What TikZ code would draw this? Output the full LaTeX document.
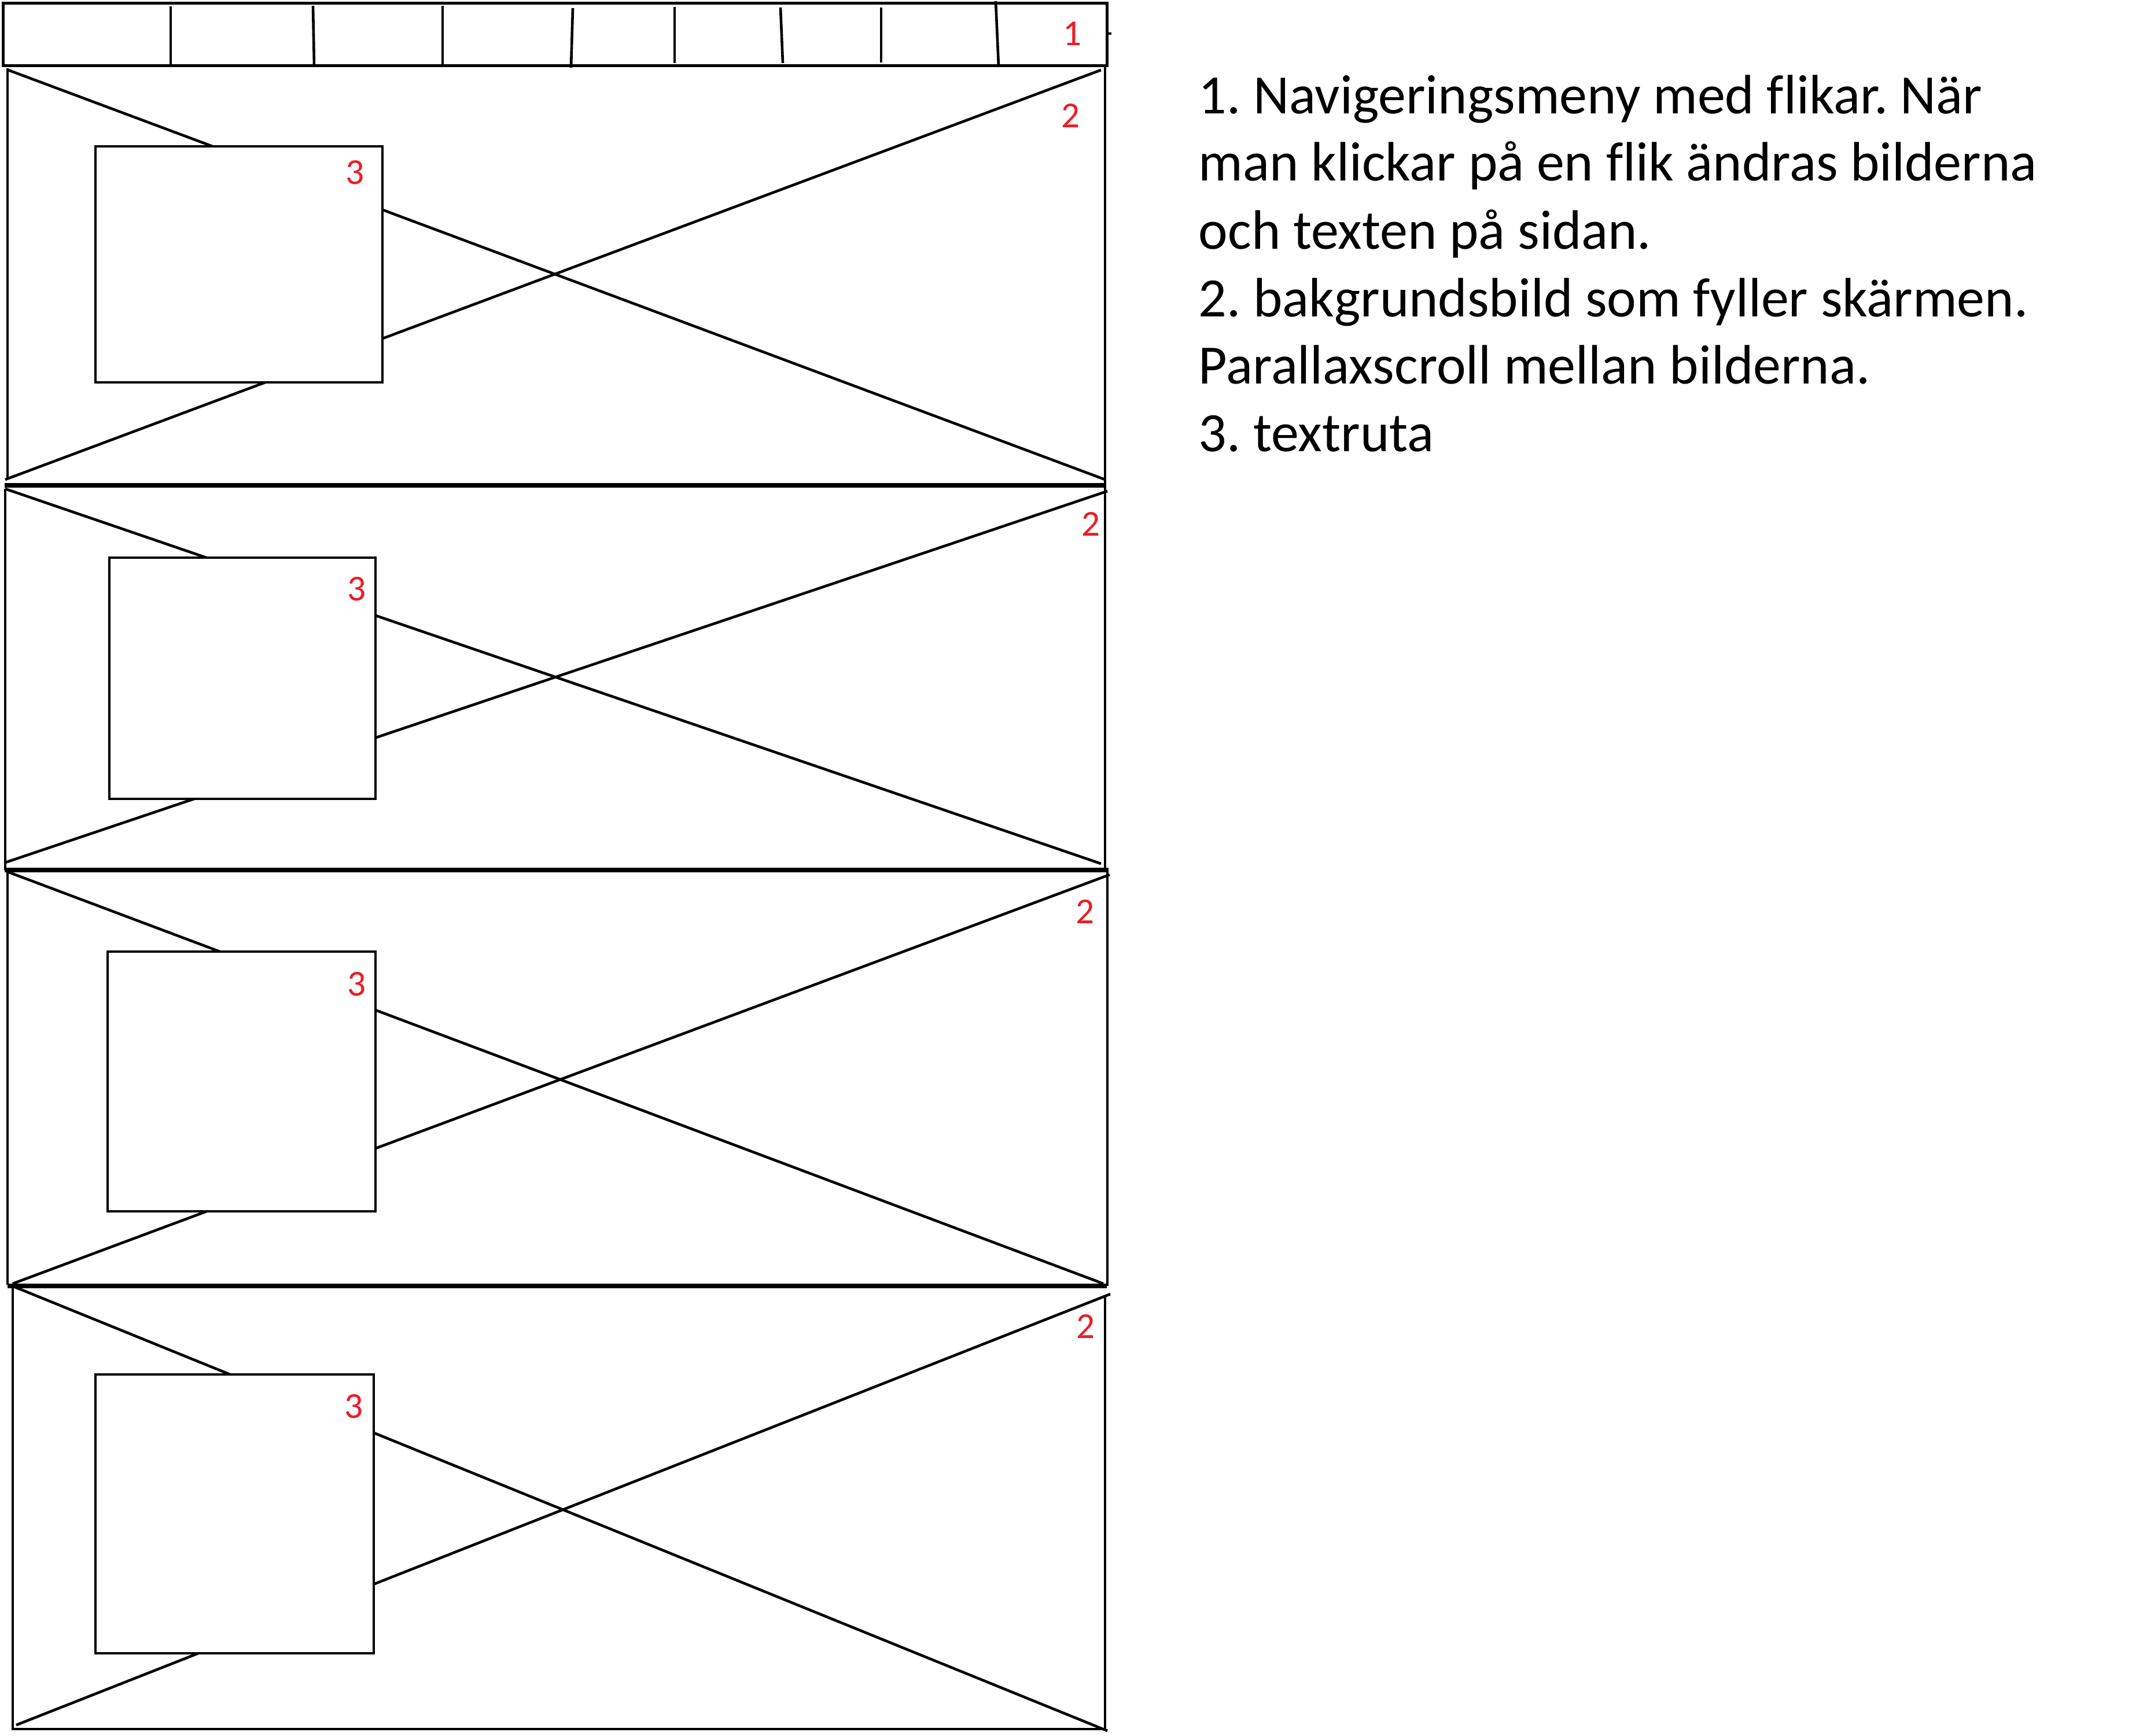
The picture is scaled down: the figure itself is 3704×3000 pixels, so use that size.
\documentclass[tikz,border=0pt]{standalone}
\usepackage{fontspec}
\newfontfamily\calibri[Ligatures=CommonOff]{Carlito}
\usetikzlibrary{fit}
\definecolor{paintred}{RGB}{237,28,36}
\frenchspacing
\tikzset{
  pl/.style={line width=1.15pt, black},
  sl/.style={line width=2.1pt, black},
  barbox/.style={draw, line width=1.25pt, inner sep=0pt},
  tb/.style={draw, fill=white, line width=1.2pt, inner sep=0pt},
  rl/.style={text=paintred, inner sep=0pt, anchor=center, font=\calibri\fontsize{15.8pt}{18pt}\selectfont},
  desc/.style={anchor=base west, inner sep=0pt, font=\calibri\fontsize{24pt}{28pt}\selectfont},
}
\begin{document}
\begin{tikzpicture}[x=0.25pt,y=-0.25pt]
\useasboundingbox (0,0) rectangle (3704,3000);
\fill[white] (0,0) rectangle (3704,3000);

% navigation bar
\node[barbox, fit={(5,5) (1913,113)}] (bar) {};
\draw[pl] (295,11) -- (295,112);
\draw[pl] (541,10) -- (543,113);
\draw[pl] (765,10) -- (765,112);
\draw[pl] (990,14) -- (987,117);
\draw[pl] (1166,12) -- (1166,109);
\draw[pl] (1349,13) -- (1353,109);
\draw[pl] (1523,13) -- (1523,108);
\draw[pl] (1721,2) -- (1726,115);
\draw[pl] (1913,58) -- (1921,58);

% panel 1
\draw[pl] (13,118) -- (13,829);
\draw[pl] (1910,113) -- (1910,839);
\draw[pl] (14,121) -- (1910,829);
\draw[pl] (9,829) -- (1903,121);
\draw[sl] (8,839) -- (1910,839);

% panel 2
\draw[pl] (9,845) -- (9,1504);
\draw[pl] (1910,839) -- (1910,1504);
\draw[pl] (9,845) -- (1903,1493);
\draw[pl] (9,1491) -- (1914,849);
\draw[sl] (8,1504) -- (1916,1504);

% panel 3
\draw[pl] (13,1507) -- (13,2221);
\draw[pl] (1914,1504) -- (1914,2223);
\draw[pl] (13,1507) -- (1907,2219);
\draw[pl] (22,2219) -- (1918,1512);
\draw[sl] (13,2223) -- (1913,2223);

% panel 4
\draw[pl] (22,2223) -- (22,2989) -- (1910,2989) -- (1910,2239);
\draw[pl] (26,2225) -- (1914,2992);
\draw[pl] (28,2982) -- (1919,2237);

% text boxes
\node[tb, fit={(165,253) (661,661)}] (b1) {};
\node[tb, fit={(189,964) (649,1381)}] (b2) {};
\node[tb, fit={(186,1645) (649,2094)}] (b3) {};
\node[tb, fit={(165,2376) (646,2858)}] (b4) {};

% red labels
\node[rl] (n1) at (1853,58) {1};
\node[rl] (n2a) at (1850,200) {2};
\node[rl] (n2b) at (1885,906) {2};
\node[rl] (n2c) at (1875,1576) {2};
\node[rl] (n2d) at (1876,2293) {2};
\node[rl] (n3a) at (614,298) {3};
\node[rl] (n3b) at (617,1018) {3};
\node[rl] (n3c) at (617,1701) {3};
\node[rl] (n3d) at (612,2431) {3};

% description
\node[desc] (t1) at (2071,196) {1. Navigeringsmeny med flikar. När};
\node[desc] (t2) at (2071,312) {man klickar på en flik ändras bilderna};
\node[desc] (t3) at (2071,430) {och texten på sidan.};
\node[desc] (t4) at (2071,547) {2. bakgrundsbild som fyller skärmen.};
\node[desc] (t5) at (2071,663) {Parallaxscroll mellan bilderna.};
\node[desc] (t6) at (2071,780) {3. textruta};
\end{tikzpicture}
\end{document}
